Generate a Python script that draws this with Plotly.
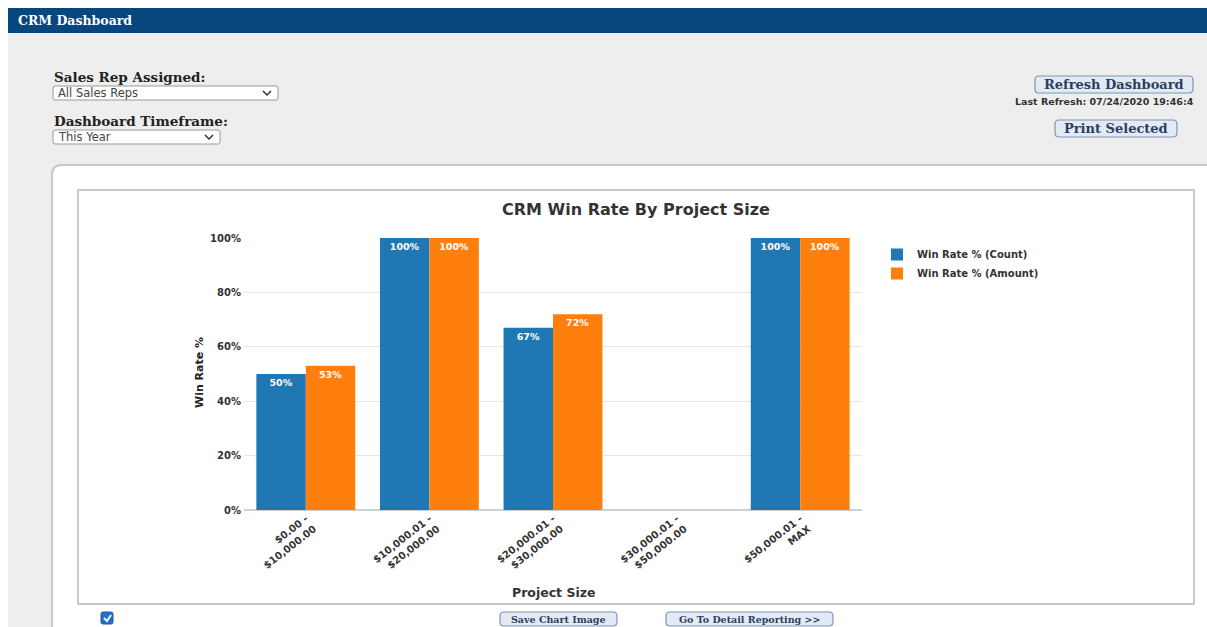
import plotly.graph_objects as go

W, H = 1207, 627

categories = ["$0.00 -<br>$10,000.00", "$10,000.01 -<br>$20,000.00", "$20,000.01 -<br>$30,000.00",
              "$30,000.01 -<br>$50,000.00", "$50,000.01 -<br>MAX"]
win_rate_count = [50, 100, 67, None, 100]
win_rate_amount = [53, 100, 72, None, 100]
y_ticks = [0, 20, 40, 60, 80, 100]
y_tick_labels = ["0%", "20%", "40%", "60%", "80%", "100%"]

BLUE = "#1f77b4"
ORANGE = "#ff7f0e"
CHART_FONT = "DejaVu Sans"
UI_FONT = "DejaVu Serif"


def px(x):
    return x / W


def py(y):
    return 1 - y / H


def round_rect(x0, y0, x1, y1, r):
    return (f"M {px(x0 + r)},{py(y0)} L {px(x1 - r)},{py(y0)} Q {px(x1)},{py(y0)} {px(x1)},{py(y0 + r)} "
            f"L {px(x1)},{py(y1 - r)} Q {px(x1)},{py(y1)} {px(x1 - r)},{py(y1)} "
            f"L {px(x0 + r)},{py(y1)} Q {px(x0)},{py(y1)} {px(x0)},{py(y1 - r)} "
            f"L {px(x0)},{py(y0 + r)} Q {px(x0)},{py(y0)} {px(x0 + r)},{py(y0)} Z")


fig = go.Figure()
for name, vals, col in [("Win Rate % (Count)", win_rate_count, BLUE),
                        ("Win Rate % (Amount)", win_rate_amount, ORANGE)]:
    fig.add_trace(go.Bar(
        x=categories, y=vals, name=name, marker=dict(color=col, line=dict(width=0)),
        text=[f"<b>{v}%</b>" if v is not None else "" for v in vals],
        textposition="inside", insidetextanchor="end", textangle=0,
        textfont=dict(family=CHART_FONT, size=9.5, color="white"),
        cliponaxis=False,
    ))

shapes = []
annotations = []

# page background and header
shapes.append(dict(type="rect", xref="paper", yref="paper", x0=px(8), x1=px(1210), y0=py(33), y1=py(630),
                   fillcolor="#eeeeee", line=dict(width=0), layer="below"))
shapes.append(dict(type="rect", xref="paper", yref="paper", x0=px(8), x1=px(1210), y0=py(8), y1=py(33),
                   fillcolor="#07467f", line=dict(width=0), layer="below"))
annotations.append(dict(text="<b>CRM Dashboard</b>", x=px(16), y=py(20), xref="paper", yref="paper",
                        xanchor="left", yanchor="middle", showarrow=False,
                        font=dict(family=UI_FONT, size=12.5, color="white")))

# white panel with rounded top-left corner
r = 10
path = (f"M {px(52)},{py(640)} L {px(52)},{py(165 + r)} Q {px(52)},{py(165)} {px(52 + r)},{py(165)} "
        f"L {px(1215)},{py(165)} L {px(1215)},{py(640)} Z")
shapes.append(dict(type="path", xref="paper", yref="paper", path=path, fillcolor="white",
                   line=dict(color="#c8c8c8", width=2), layer="below"))
# chart box
shapes.append(dict(type="rect", xref="paper", yref="paper", x0=px(78), x1=px(1194), y0=py(604), y1=py(190),
                   fillcolor="white", line=dict(color="#b8b8b8", width=1.5), layer="below"))

# labels and dropdowns
for label, ly, box_y, box_x1, val in [("Sales Rep Assigned:", 77, 86, 278, "All Sales Reps"),
                                      ("Dashboard Timeframe:", 121, 130, 220, "This Year")]:
    annotations.append(dict(text=f"<b>{label}</b>", x=px(52), y=py(ly), xref="paper", yref="paper",
                            xanchor="left", yanchor="middle", showarrow=False,
                            font=dict(family=UI_FONT, size=13.5, color="#222222")))
    shapes.append(dict(type="path", xref="paper", yref="paper", path=round_rect(53, box_y, box_x1, box_y + 14, 2),
                       fillcolor="white", line=dict(color="#9a9a9a", width=1), layer="below"))
    annotations.append(dict(text=val, x=px(56), y=py(box_y + 7), xref="paper", yref="paper",
                            xanchor="left", yanchor="middle", showarrow=False,
                            font=dict(family="DejaVu Sans", size=11.5, color="#444444")))
    cx = box_x1 - 11
    shapes.append(dict(type="path", xref="paper", yref="paper",
                       path=f"M {px(cx - 4)},{py(box_y + 5)} L {px(cx)},{py(box_y + 9)} L {px(cx + 4)},{py(box_y + 5)}",
                       line=dict(color="#333333", width=1.5)))


def button(x0, x1, y0, y1, text, size):
    shapes.append(dict(type="path", xref="paper", yref="paper", path=round_rect(x0, y0, x1, y1, 4),
                       fillcolor="#e4eaf3", line=dict(color="#7f93b3", width=1.2), layer="below"))
    annotations.append(dict(text=f"<b>{text}</b>", x=px((x0 + x1) / 2), y=py((y0 + y1) / 2), xref="paper",
                            yref="paper", xanchor="center", yanchor="middle", showarrow=False,
                            font=dict(family=UI_FONT, size=size, color="#2a3f5f")))


button(1035, 1193, 76, 93, "Refresh Dashboard", 13)
button(1055, 1177, 120, 137, "Print Selected", 13)
button(500, 617, 612, 626, "Save Chart Image", 9.5)
button(666, 833, 612, 626, "Go To Detail Reporting &gt;&gt;", 9.5)
annotations.append(dict(text="<b>Last Refresh: 07/24/2020 19:46:4</b>", x=px(1013), y=py(101), xref="paper",
                        yref="paper", xanchor="left", yanchor="middle", showarrow=False,
                        font=dict(family="DejaVu Sans", size=9.5, color="#333333")))

# checkbox
shapes.append(dict(type="path", xref="paper", yref="paper", path=round_rect(101, 612, 113, 624, 2),
                   fillcolor="#2a6fc4", line=dict(color="#1d5aa8", width=1)))
shapes.append(dict(type="path", xref="paper", yref="paper",
                   path=f"M {px(104)},{py(618)} L {px(107)},{py(621)} L {px(111)},{py(615)}",
                   line=dict(color="white", width=1.8)))

# chart title and axis titles
annotations.append(dict(text="<b>CRM Win Rate By Project Size</b>", x=px(636), y=py(210), xref="paper",
                        yref="paper", xanchor="center", yanchor="middle", showarrow=False,
                        font=dict(family=CHART_FONT, size=16, color="#333333")))
annotations.append(dict(text="<b>Win Rate %</b>", x=px(199), y=py(373), xref="paper", yref="paper",
                        xanchor="center", yanchor="middle", showarrow=False, textangle=-90,
                        font=dict(family=CHART_FONT, size=11, color="#222222")))
annotations.append(dict(text="<b>Project Size</b>", x=px(553), y=py(592), xref="paper", yref="paper",
                        xanchor="center", yanchor="middle", showarrow=False,
                        font=dict(family=CHART_FONT, size=12.5, color="#333333")))

fig.update_layout(
    width=W, height=H, autosize=False,
    margin=dict(l=0, r=0, t=0, b=0, pad=0, autoexpand=False),
    paper_bgcolor="white", plot_bgcolor="rgba(0,0,0,0)",
    barmode="group", bargap=0.2, bargroupgap=0,
    shapes=shapes, annotations=annotations,
    legend=dict(x=px(877), y=py(240), xanchor="left", yanchor="top", bgcolor="rgba(0,0,0,0)",
                font=dict(family=CHART_FONT, size=10, color="#333333", weight="bold"),
                itemwidth=30, tracegroupgap=0),
    xaxis=dict(domain=[px(244), px(862)], tickangle=-38, showgrid=False, showline=False, ticks="",
               automargin=False, tickfont=dict(family=CHART_FONT, size=10, color="#333333"), fixedrange=True),
    yaxis=dict(domain=[py(510), py(238)], range=[0, 100], tickvals=y_ticks,
               ticktext=[f"<b>{t}</b>" for t in y_tick_labels], automargin=False,
               showgrid=True, gridcolor="#e6e6e6", gridwidth=1, zeroline=True, zerolinecolor="#d0d0d0",
               zerolinewidth=1.5, ticks="", ticklabelstandoff=2,
               tickfont=dict(family=CHART_FONT, size=10, color="#333333")),
    showlegend=True,
)
fig.update_xaxes(tickprefix="<b>", ticksuffix="</b>")

fig.write_html(
    "out.html",
    config={"displayModeBar": False},
    post_script=("var d=document.getElementById('{plot_id}');"
                 "d.style.position='fixed';d.style.top='0px';d.style.left='0px';"
                 "document.body.style.margin='0';document.body.style.padding='0';"
                 "document.body.style.overflow='hidden';"
                 "document.documentElement.style.overflow='hidden';"),
)
